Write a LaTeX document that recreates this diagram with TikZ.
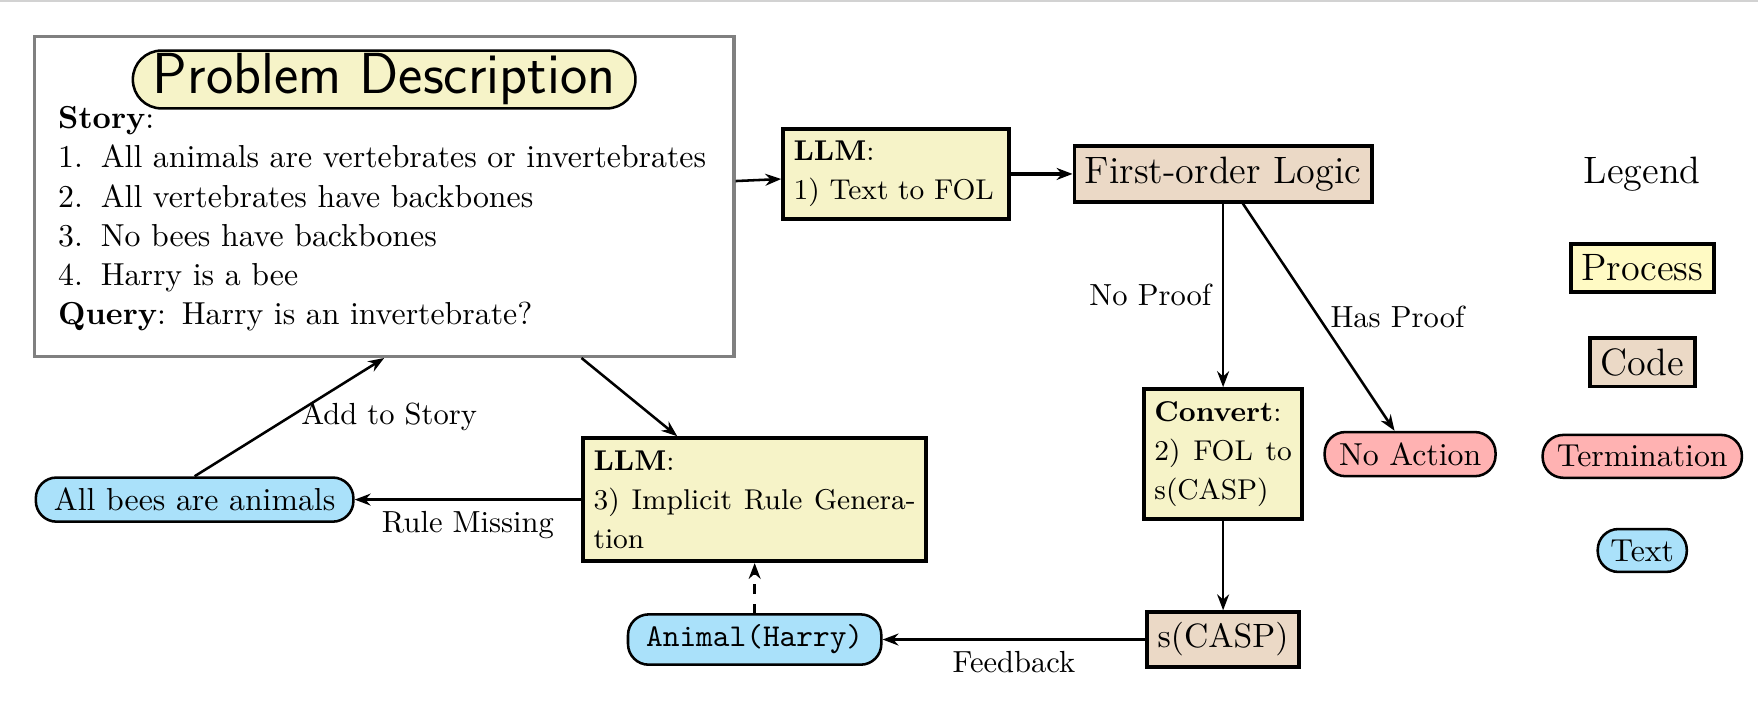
\documentclass[tikz,border=0pt]{standalone}
\usepackage{tikz}
\usetikzlibrary{arrows.meta, positioning}
\definecolor{procfill}{RGB}{246,243,200}
\definecolor{legfill}{RGB}{255,250,196}
\definecolor{codefill}{RGB}{235,217,198}
\definecolor{termfill}{RGB}{255,178,178}
\definecolor{textfill}{RGB}{170,225,250}
\definecolor{framegray}{RGB}{128,128,128}
\tikzset{
  probbox/.style={
    rectangle, draw=framegray, line width=1pt,
    text width=205pt, align=left, inner xsep=7.5pt, inner ysep=8pt,
    font=\fontsize{10}{12.3}\selectfont
  },
  titlepill/.style={
    rectangle, draw=black, fill=procfill, thick,
    rounded corners=9pt, inner xsep=6.3pt, inner ysep=1pt,
    font=\fontsize{18.2}{22}\selectfont\sffamily
  },
  procbox/.style={
    rectangle, draw=black, fill=procfill, line width=1.2pt,
    inner xsep=3.3pt, inner ysep=3.9pt, font=\fontsize{9}{12.3}\selectfont
  },
  codebox/.style={
    rectangle, draw=black, fill=codefill, line width=1.2pt,
    inner sep=3.3pt, font=\large
  },
  termpill/.style={
    rectangle, draw=black, fill=termfill, thick,
    rounded corners=6.5pt, inner xsep=4.5pt, inner ysep=3.3pt
  },
  textpill/.style={
    rectangle, draw=black, fill=textfill, thick,
    rounded corners=6.5pt, inner xsep=5.7pt, inner ysep=3.3pt
  },
  edgelabel/.style={font=\fontsize{9.6}{11.5}\selectfont},
  arrow/.style={-{Stealth[length=5pt]}, thick},
  dasharrow/.style={-{Stealth[length=5pt]}, thick, dashed},
}

\begin{document}
\begin{tikzpicture}[on grid]
  \useasboundingbox (0,0) rectangle (552.8pt,-221.4pt);
  \draw[gray!35, line width=0.5pt] (0,-0.4pt) -- (552.8pt,-0.4pt);

  %% -- Problem description --
  \node[probbox] (prob) at (120.8pt,-61.8pt)
  {\rule{0pt}{21pt}\textbf{Story}:\\
   \makebox[13.4pt][l]{1.}All animals are vertebrates or invertebrates\\
   \makebox[13.4pt][l]{2.}All vertebrates have backbones\\
   \makebox[13.4pt][l]{3.}No bees have backbones\\
   \makebox[13.4pt][l]{4.}Harry is a bee\\
   \textbf{Query}: Harry is an invertebrate?};
  \node[titlepill, above=36.8pt of prob] (title) {Problem Description};

  %% -- Row 1: text to logic --
  \node[procbox, align=justify, text width=64.5pt, above right=7.1pt and 161pt of prob]
  (llm1) {\textbf{LLM}:\\ 1) Text to FOL};
  \node[codebox, right=102.8pt of llm1] (fol) {First-order Logic};
  \node[font=\large, right=131.8pt of fol] (legend) {Legend};

  %% -- Column under FOL --
  \node[procbox, align=justify, text width=43.2pt, below=88.1pt of fol]
  (conv) {\textbf{Convert}:\\ 2) FOL to s(CASP)};
  \node[codebox, font=\fontsize{10.6}{13}\selectfont, below=58.3pt of conv]
  (scasp) {s(CASP)};
  \node[termpill, right=58.8pt of conv] (noact) {No Action};

  %% -- Feedback loop --
  \node[textpill, left=147.3pt of scasp] (animal) {\texttt{Animal(Harry)}};
  \node[procbox, align=justify, text width=101.3pt, above=44pt of animal]
  (llm3) {\textbf{LLM}:\\ 3) Implicit Rule Generation};
  \node[textpill, left=176.1pt of llm3] (bees) {All bees are animals};

  %% -- Legend --
  \node[procbox, fill=legfill, inner ysep=3.3pt, font=\large, below=29.6pt of legend]
  (legproc) {Process};
  \node[codebox, below=29.6pt of legproc] (legcode) {Code};
  \node[termpill, below=29.6pt of legcode] (legterm) {Termination};
  \node[textpill, inner xsep=4pt, below=29.6pt of legterm] (legtext) {Text};

  %% -- Arrows --
  \draw[arrow] (prob) -- (llm1);
  \draw[arrow, very thick] (llm1) -- (fol);
  \draw[arrow] (fol) -- node[edgelabel, left] {No Proof} (conv);
  \draw[arrow] (fol) -- node[edgelabel, right] {Has Proof} (noact);
  \draw[arrow] (conv) -- (scasp);
  \draw[arrow] (scasp) -- node[edgelabel, below] {Feedback} (animal);
  \draw[dasharrow] (animal) -- (llm3);
  \draw[arrow] (prob) -- (llm3);
  \draw[arrow] (llm3) -- node[edgelabel, below] {Rule Missing} (bees);
  \draw[arrow] (bees.north) -- node[edgelabel, right] {Add to Story} (prob.south);

\end{tikzpicture}
\end{document}
